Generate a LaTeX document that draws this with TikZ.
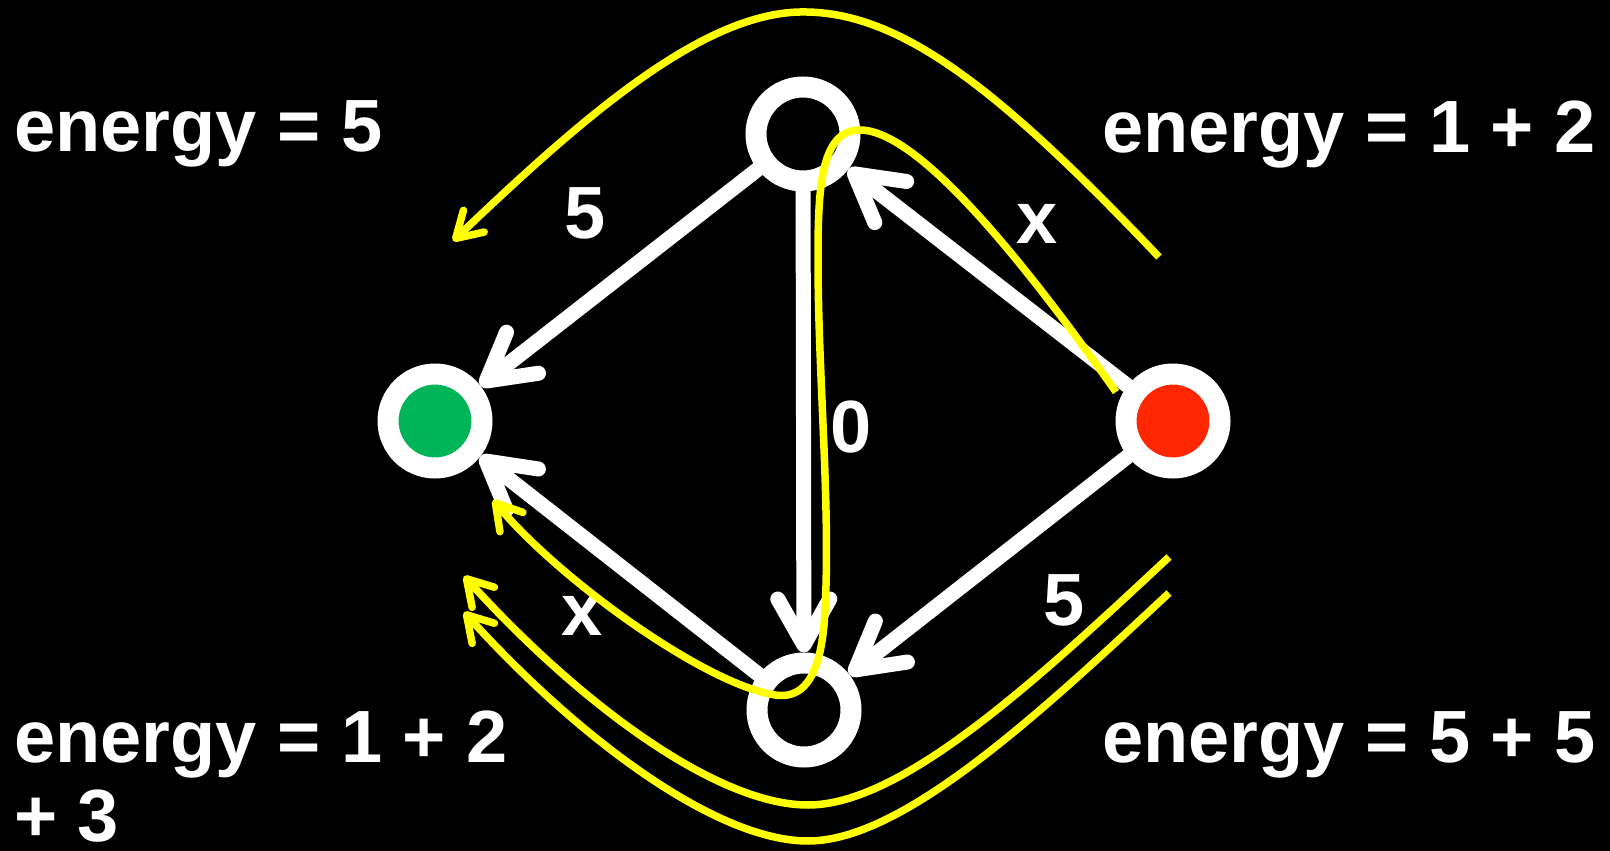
\documentclass[tikz,border=0pt]{standalone}
\usepackage{fontspec}
\setmainfont{Liberation Sans}
\usepackage{tikz}
\usetikzlibrary{arrows.meta}
\definecolor{goalgreen}{RGB}{0,181,88}
\definecolor{startred}{RGB}{255,38,0}
\definecolor{touryellow}{RGB}{255,255,0}
\tikzset{
  vertex/.style={circle,draw=white,line width=21pt,minimum size=94pt,
    inner sep=0pt,fill=black},
  flow/.style={-{Straight Barb[length=46pt,width=52pt,round]},
    line width=15pt,draw=white,line cap=round},
  tour/.style={-{Straight Barb[length=25pt,width=30pt,round]},
    line width=7.5pt,draw=touryellow},
  energylabel/.style={font=\fontsize{74pt}{79pt}\selectfont\bfseries,
    text=white,inner sep=0pt,align=left},
  weightlabel/.style={font=\fontsize{74pt}{79pt}\selectfont\bfseries,
    text=white,inner sep=0pt}
}

\begin{document}
\begin{tikzpicture}[x=1pt,y=-1pt]
  \fill[black] (0,0) rectangle (1610,851);
  \useasboundingbox (0,0) rectangle (1610,851);
  % graph
  \node[vertex] (top) at (803,134) {};
  \node[vertex,fill=goalgreen] (goal) at (435,421) {};
  \node[vertex,fill=startred] (start) at (1173,421) {};
  \node[vertex] (bottom) at (804,710) {};
  \draw[flow] (top) -- (goal);
  \draw[flow] (bottom) -- (goal);
  \draw[flow] (top) -- (bottom);
  \draw[flow] (start) -- (top);
  \draw[flow] (start) -- (bottom);
  \node[weightlabel,anchor=base] (w5a) at (585,238) {5};
  \node[weightlabel,anchor=base] (wxa) at (1037,243) {x};
  \node[weightlabel,anchor=base] (w0) at (851,452) {0};
  \node[weightlabel,anchor=base] (wxb) at (582,635) {x};
  \node[weightlabel,anchor=base] (w5b) at (1064,625) {5};
  % energies
  \node[energylabel,anchor=base west] (e5) at (14,151) {energy = 5};
  \node[energylabel,anchor=base west] (e12) at (1102,152) {energy = 1 + 2};
  \node[energylabel,anchor=base west] (e123) at (14,841) {energy = 1 + 2\\+ 3};
  \node[energylabel,anchor=base west] (e55) at (1102,762) {energy = 5 + 5};
  % yellow tours
  \coordinate (sweepR) at (1159,257);
  \coordinate (sweepL) at (453,241);
  \coordinate (loopR) at (1116,392);
  \coordinate (loopL) at (493,500);
  \coordinate (lowAR) at (1169,557);
  \coordinate (lowAL) at (464,576);
  \coordinate (lowBR) at (1169,593);
  \coordinate (lowBL) at (464,612);
  \draw[tour] (sweepR) .. controls (1000,90) and (900,10) .. (800,12)
    .. controls (700,14) and (580,120) .. (sweepL);
  \draw[tour] (loopR) .. controls (1030,270) and (920,130) .. (860,130)
    .. controls (820,130) and (818,190) .. (818,260)
    .. controls (818,380) and (832,520) .. (824,625)
    .. controls (818,690) and (795,700) .. (770,694)
    .. controls (700,680) and (560,580) .. (loopL);
  \draw[tour] (lowAR) .. controls (1030,687) and (900,805) .. (808,805)
    .. controls (716,805) and (578,702) .. (lowAL);
  \draw[tour] (lowBR) .. controls (1030,723) and (900,841) .. (808,841)
    .. controls (716,841) and (578,738) .. (lowBL);
\end{tikzpicture}
\end{document}
